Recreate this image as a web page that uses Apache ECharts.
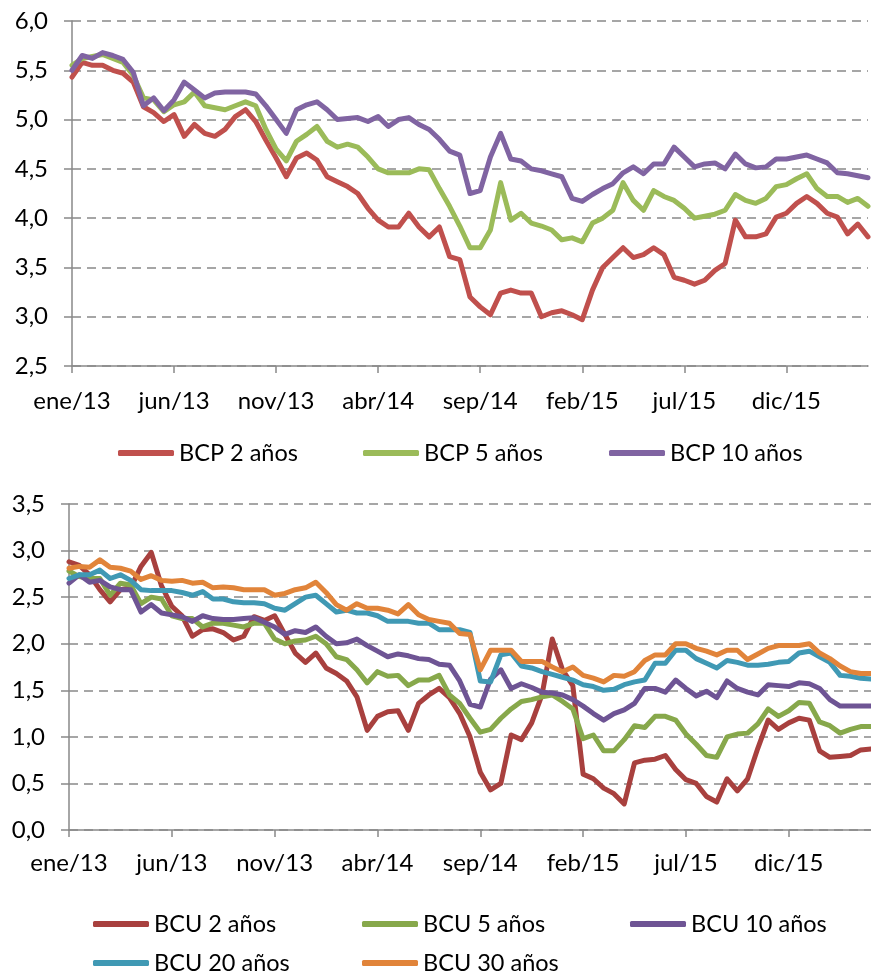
<!DOCTYPE html>
<html>
<head>
<meta charset="utf-8">
<script src="https://cdn.jsdelivr.net/npm/echarts@6/dist/echarts.min.js"></script>
<style>
html,body{margin:0;padding:0;background:#fff;}
#c{width:871px;height:974px;}
</style>
</head>
<body>
<div id="c"></div>
<script>
// Categories: semi-monthly dates from 1 Jan 2013 to 1 Apr 2016
const categories = [];
(function(){
  for (let y = 2013; y <= 2016; y++) {
    for (let m = 1; m <= 12; m++) {
      for (const d of [1, 16]) {
        if (categories.length < 79) categories.push(d + '/' + m + '/' + y);
      }
    }
  }
})();
const tickLabels = ['ene/13','jun/13','nov/13','abr/14','sep/14','feb/15','jul/15','dic/15'];

// Top panel: BCP
const bcp2 = [5.43,5.58,5.55,5.55,5.50,5.47,5.38,5.13,5.07,4.98,5.05,4.83,4.95,4.86,4.83,4.90,5.03,5.10,4.98,4.79,4.61,4.42,4.61,4.66,4.59,4.42,4.37,4.32,4.25,4.10,3.98,3.91,3.91,4.05,3.91,3.81,3.91,3.61,3.58,3.20,3.10,3.02,3.24,3.27,3.24,3.24,3.00,3.04,3.06,3.02,2.97,3.27,3.50,3.60,3.70,3.60,3.63,3.70,3.63,3.40,3.37,3.33,3.37,3.47,3.54,3.98,3.81,3.81,3.84,4.01,4.05,4.15,4.22,4.15,4.05,4.01,3.84,3.94,3.81];
const bcp5 = [5.55,5.62,5.64,5.66,5.62,5.58,5.45,5.22,5.20,5.08,5.15,5.18,5.28,5.14,5.12,5.10,5.14,5.18,5.14,4.90,4.70,4.58,4.78,4.85,4.93,4.78,4.72,4.75,4.72,4.62,4.50,4.46,4.46,4.46,4.50,4.49,4.30,4.12,3.92,3.70,3.70,3.88,4.36,3.98,4.05,3.95,3.92,3.88,3.78,3.80,3.76,3.95,4.00,4.08,4.36,4.18,4.08,4.28,4.22,4.18,4.10,4.00,4.02,4.04,4.08,4.24,4.18,4.15,4.20,4.32,4.34,4.40,4.45,4.30,4.22,4.22,4.16,4.20,4.12];
const bcp10 = [5.50,5.65,5.62,5.68,5.65,5.61,5.48,5.14,5.22,5.09,5.20,5.38,5.30,5.22,5.27,5.28,5.28,5.28,5.26,5.14,5.00,4.86,5.10,5.15,5.18,5.10,5.00,5.01,5.02,4.98,5.03,4.93,5.00,5.02,4.95,4.90,4.80,4.68,4.64,4.25,4.28,4.62,4.86,4.60,4.58,4.50,4.48,4.45,4.42,4.20,4.17,4.24,4.30,4.35,4.46,4.52,4.45,4.55,4.55,4.72,4.62,4.52,4.55,4.56,4.50,4.65,4.55,4.51,4.52,4.60,4.60,4.62,4.64,4.60,4.56,4.46,4.45,4.43,4.41];

// Bottom panel: BCU
const bcu2 = [2.88,2.84,2.74,2.58,2.45,2.58,2.60,2.83,2.98,2.62,2.40,2.30,2.08,2.15,2.16,2.12,2.04,2.08,2.29,2.25,2.30,2.10,1.90,1.80,1.90,1.74,1.68,1.60,1.43,1.07,1.22,1.27,1.28,1.07,1.36,1.45,1.52,1.42,1.25,1.00,0.62,0.43,0.50,1.02,0.97,1.15,1.45,2.05,1.72,1.55,0.60,0.55,0.45,0.39,0.28,0.72,0.75,0.76,0.80,0.65,0.54,0.50,0.36,0.30,0.55,0.42,0.55,0.88,1.18,1.08,1.15,1.20,1.18,0.85,0.78,0.79,0.80,0.86,0.87];
const bcu5 = [2.78,2.72,2.70,2.70,2.52,2.65,2.63,2.43,2.50,2.48,2.30,2.27,2.27,2.18,2.22,2.22,2.20,2.18,2.22,2.22,2.05,2.00,2.03,2.04,2.08,2.00,1.86,1.83,1.72,1.58,1.70,1.65,1.66,1.55,1.61,1.61,1.66,1.45,1.36,1.20,1.05,1.08,1.20,1.30,1.38,1.40,1.43,1.45,1.38,1.30,0.98,1.02,0.85,0.85,0.97,1.12,1.10,1.22,1.22,1.18,1.03,0.92,0.80,0.78,1.00,1.03,1.04,1.14,1.30,1.22,1.28,1.37,1.36,1.16,1.12,1.04,1.08,1.11,1.11];
const bcu10 = [2.65,2.74,2.66,2.68,2.61,2.58,2.58,2.34,2.42,2.33,2.31,2.29,2.24,2.30,2.27,2.26,2.26,2.27,2.28,2.23,2.18,2.10,2.14,2.12,2.18,2.08,2.00,2.01,2.05,1.98,1.92,1.86,1.89,1.87,1.84,1.83,1.78,1.77,1.60,1.35,1.32,1.62,1.72,1.52,1.57,1.53,1.48,1.47,1.45,1.40,1.33,1.25,1.18,1.25,1.29,1.36,1.52,1.52,1.48,1.61,1.52,1.44,1.49,1.42,1.60,1.52,1.48,1.45,1.56,1.55,1.54,1.58,1.57,1.52,1.40,1.33,1.33,1.33,1.33];
const bcu20 = [2.70,2.74,2.74,2.79,2.70,2.74,2.68,2.58,2.57,2.57,2.57,2.55,2.52,2.56,2.48,2.48,2.45,2.44,2.44,2.43,2.38,2.36,2.43,2.50,2.52,2.43,2.34,2.36,2.33,2.33,2.30,2.24,2.24,2.24,2.22,2.22,2.15,2.15,2.15,2.12,1.60,1.59,1.88,1.90,1.76,1.74,1.70,1.67,1.64,1.61,1.56,1.54,1.50,1.51,1.56,1.59,1.61,1.79,1.79,1.93,1.93,1.84,1.79,1.74,1.82,1.80,1.77,1.77,1.78,1.80,1.81,1.90,1.92,1.86,1.80,1.66,1.65,1.63,1.62];
const bcu30 = [2.81,2.83,2.82,2.90,2.82,2.81,2.78,2.69,2.73,2.68,2.67,2.68,2.65,2.66,2.60,2.61,2.60,2.58,2.58,2.58,2.52,2.54,2.58,2.60,2.66,2.55,2.42,2.36,2.43,2.38,2.38,2.36,2.32,2.42,2.31,2.26,2.24,2.22,2.11,2.10,1.72,1.93,1.93,1.93,1.81,1.81,1.81,1.75,1.70,1.75,1.66,1.63,1.59,1.66,1.65,1.70,1.82,1.88,1.88,2.00,2.00,1.95,1.92,1.88,1.93,1.93,1.83,1.89,1.95,1.98,1.98,1.98,2.00,1.90,1.84,1.76,1.70,1.68,1.68];

const FONT = 'Lato';
const AX = '#898989';

function xAxisFor(gi, margin) {
  return {
    type: 'category', gridIndex: gi, data: categories, boundaryGap: false,
    axisLine: { lineStyle: { color: AX, width: 1.5 } },
    axisTick: { interval: 9, length: 7, lineStyle: { color: AX, width: 1.5 } },
    axisLabel: { interval: 9, margin: margin, fontSize: 24, fontFamily: FONT, color: '#000',
      formatter: (v, i) => tickLabels[i / 10] || '' },
    splitLine: { show: false }
  };
}
function yAxisFor(gi, min, max) {
  return {
    type: 'value', gridIndex: gi, min: min, max: max, interval: 0.5,
    axisLine: { show: true, lineStyle: { color: AX, width: 1.5 } },
    axisTick: { show: true, length: 8, lineStyle: { color: AX, width: 1.5 } },
    axisLabel: { margin: 24, fontSize: 24, fontFamily: FONT, color: '#000',
      formatter: v => v.toFixed(1).replace('.', ',') },
    splitLine: { lineStyle: { color: AX, width: 1.5, type: [9, 6] } }
  };
}
function line(name, data, color, gi) {
  return { name, type: 'line', data, xAxisIndex: gi, yAxisIndex: gi, showSymbol: false,
    symbol: 'none', lineStyle: { width: 5, color, cap: 'round', join: 'round' }, itemStyle: { color } };
}
function leg(name, left, top) {
  return { data: [name], left, top, padding: 0, itemWidth: 56, itemHeight: 6, icon: 'roundRect',
    textStyle: { fontSize: 23.5, fontFamily: FONT, color: '#000' }, selectedMode: false };
}

const chart = echarts.init(document.getElementById('c'), null, { renderer: 'canvas' });
chart.setOption({
  animation: false,
  backgroundColor: '#fff',
  grid: [
    { left: 72, right: 3, top: 21, height: 345 },
    { left: 69, right: 0, top: 504, height: 326 }
  ],
  xAxis: [xAxisFor(0, 23), xAxisFor(1, 21)],
  yAxis: [yAxisFor(0, 2.5, 6), yAxisFor(1, 0, 3.5)],
  legend: [
    leg('BCP 2 años', 118, 441), leg('BCP 5 años', 363, 441), leg('BCP 10 años', 609, 441),
    leg('BCU 2 años', 93, 912), leg('BCU 5 años', 362, 912), leg('BCU 10 años', 630, 912),
    leg('BCU 20 años', 93, 951), leg('BCU 30 años', 362, 951)
  ],
  series: [
    line('BCP 2 años', bcp2, '#C0504D', 0),
    line('BCP 5 años', bcp5, '#9BBB59', 0),
    line('BCP 10 años', bcp10, '#8064A2', 0),
    line('BCU 2 años', bcu2, '#A8403E', 1),
    line('BCU 5 años', bcu5, '#87A84B', 1),
    line('BCU 10 años', bcu10, '#6E5494', 1),
    line('BCU 20 años', bcu20, '#4099B4', 1),
    line('BCU 30 años', bcu30, '#E1843A', 1)
  ]
});
</script>
</body>
</html>
